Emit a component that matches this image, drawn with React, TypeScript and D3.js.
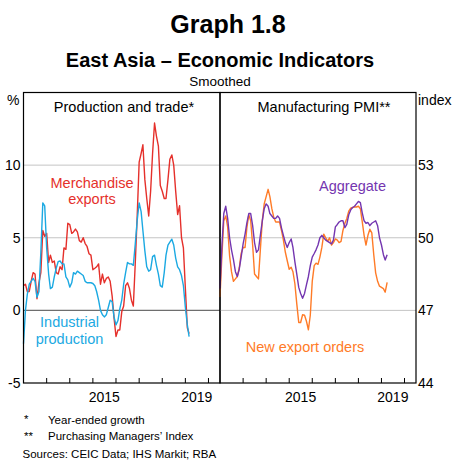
import React from "react";
import * as d3 from "d3";

// monthly, starting January 2012
const startMonth = new Date(2012, 0, 1);
const endDomain = new Date(2020, 6, 1);

// Production and trade, year-ended growth, %
const merchandiseExports = [
  1.7, 1.8, 1.3, 1.3, 2.0, 2.6, 2.5, 0.8, 1.9, 2.6,
  5.5, 5.1, 5.3, 3.3, 3.8, 3.3, 3.4, 2.6, 2.5, 3.0,
  2.8, 4.3, 4.2, 6.0, 5.9, 5.3, 5.4, 5.6, 5.4, 4.8,
  4.7, 5.0, 4.6, 4.4, 3.9, 3.8, 2.8, 2.9, 3.0, 3.2,
  1.8, 2.5, 1.9, 2.2, 2.3, 2.0, 1.0, -0.5, -1.8, -1.35,
  -1.35, -0.1, 0.3, 1.7, 1.9, 1.5, 0.7, 0.3, 3.3, 6.5,
  10.2, 10.8, 11.4, 9.0, 7.7, 6.5, 8.2, 10.8, 12.9, 12.0,
  11.3, 8.6, 8.2, 7.7, 7.7, 9.0, 10.4, 10.7, 10.0, 8.2,
  6.6, 7.2, 5.0, 4.3, 1.5, -1.2, -1.6,
];
const industrialProduction = [
  -2.3, 0.0, 1.1, 1.8, 2.0, 2.2, 2.0, 0.9, 1.3, 4.0,
  7.4, 7.2, 4.3, 2.5, 1.5, 1.6, 2.3, 2.9, 3.35, 3.4,
  3.2, 3.2, 2.3, 2.1, 1.6, 1.9, 2.6, 2.5, 2.7, 2.6,
  2.5, 2.4, 2.0, 1.9, 1.9, 1.9, 1.85, 1.7, 1.3, 0.7,
  0.0, -0.3, -0.45, -0.3, 0.2, 0.7, 0.6, -0.45, -1.0, -0.7,
  0.1, 0.7, 1.8, 2.6, 3.3, 3.2, 3.2, 3.1, 4.6, 6.2,
  7.4, 6.8, 5.5, 4.1, 3.0, 2.7, 2.8, 3.7, 3.8, 3.1,
  2.5, 1.7, 1.6, 2.6, 3.8, 4.5, 4.7, 4.9, 4.5, 3.6,
  3.0, 2.8, 2.4, 1.7, 0.2, -1.0, -1.8,
];

// Manufacturing PMI, index
const pmiAggregate = [
  47.9, 49.7, 51.0, 51.3, 50.8, 50.0, 49.5, 49.1, 48.6, 48.4,
  48.7, 49.2, 49.75, 50.15, 50.6, 51.0, 51.0, 50.5, 49.8, 49.4,
  49.5, 50.1, 50.7, 51.2, 51.4, 51.3, 51.0, 50.9, 50.8, 50.8,
  50.9, 50.8, 50.4, 50.1, 49.8, 49.6, 49.8, 49.95, 49.6, 49.0,
  48.5, 47.95, 47.7, 47.5, 47.7, 48.05, 48.4, 48.85, 49.2, 49.35,
  49.5, 49.7, 50.0, 50.1, 50.0, 49.9, 49.85, 49.8, 49.75, 49.9,
  50.45, 50.55, 50.65, 50.7, 50.7, 50.42, 50.55, 50.95, 51.15, 51.25,
  51.3, 51.4, 51.5, 51.45, 51.05, 50.7, 50.6, 50.63, 50.5, 50.6,
  50.65, 50.7, 50.5, 50.0, 49.7, 49.3, 49.08, 49.3,
];
const pmiNewExportOrders = [
  47.55, 49.3, 50.7, 50.9, 50.45, 49.25, 48.6, 48.2, 48.3, 48.4,
  48.75, 49.35, 49.6, 49.6, 50.4, 50.95, 50.7, 49.7, 48.5, 48.4,
  48.3, 49.5, 50.7, 51.4, 51.7, 52.0, 51.7, 51.2, 50.85, 50.65,
  50.65, 50.65, 50.3, 49.9, 49.4, 49.05, 48.7, 48.78, 48.6, 48.1,
  47.27, 46.5, 46.5, 46.82, 46.8, 46.55, 46.2, 46.8, 48.2, 48.85,
  48.95, 48.9, 49.2, 49.6, 50.15, 50.0, 49.85, 50.0, 49.7, 49.8,
  49.95, 49.9, 49.8, 49.85, 50.3, 50.6, 50.8, 51.1, 51.22, 51.25,
  51.27, 51.27, 51.3, 51.2, 50.7, 50.1, 49.7, 50.1, 50.35, 50.2,
  49.3, 48.55, 48.2, 48.0, 47.95, 47.9, 47.75, 48.16,
];

const yearLabels = [2015, 2019];
const leftTicks = [10, 5, 0, -5];
const rightTicks = [53, 50, 47, 44];

const FONT = "Arial, 'Liberation Sans', Helvetica, sans-serif";
const RED = "#e5302b";
const BLUE = "#1ba9e2";
const PURPLE = "#7436b0";
const ORANGE = "#ff7b27";

const TOP = 92.5;
const BOTTOM = 383;

const monthDate = (i: number) => d3.timeMonth.offset(startMonth, i);

const Panel = ({ x, y, grid, zero, series }) => {
  const [x0, x1] = x.range();
  const years = d3.timeYear.range(new Date(2013, 0, 1), endDomain);
  return (
    <g>
      {grid.map(v => (
        <line key={v} x1={x0} x2={x1} y1={y(v)} y2={y(v)}
          stroke={v === zero ? "#6e6e6e" : "#c4c4c4"}
          strokeWidth={v === zero ? 1.4 : 1} />
      ))}
      {series.map(s => {
        const line = d3.line<number>()
          .x((d, i) => x(monthDate(i)))
          .y(d => y(d));
        return (
          <path key={s.name} d={line(s.values) || ""} fill="none"
            stroke={s.color} strokeWidth={1.4} strokeLinejoin="round" />
        );
      })}
      {years.map(d => (
        <line key={+d} x1={x(d)} x2={x(d)} y1={BOTTOM} y2={BOTTOM - 5}
          stroke="#000" strokeWidth={1} />
      ))}
      {yearLabels.map(yr => (
        <text key={yr} x={x(new Date(yr, 6, 1))} y={401.5} textAnchor="middle"
          fontSize={14}>{yr}</text>
      ))}
      <rect x={x0} y={TOP} width={x1 - x0} height={BOTTOM - TOP}
        fill="none" stroke="#000" strokeWidth={1.2} />
    </g>
  );
};

export default function App() {
  const xL = d3.scaleTime().domain([startMonth, endDomain]).range([23.5, 220]);
  const xR = d3.scaleTime().domain([startMonth, endDomain]).range([220, 416]);
  const yL = d3.scaleLinear().domain([-5, 15]).range([BOTTOM, TOP]);
  const yR = d3.scaleLinear().domain([44, 56]).range([BOTTOM, TOP]);

  return (
    <svg width={455} height={461} fontFamily={FONT}
      style={{ position: "absolute", left: 0, top: 0, background: "#fff" }}>
      <text x={228} y={33} textAnchor="middle" fontSize={25} fontWeight="bold">Graph 1.8</text>
      <text x={220} y={67} textAnchor="middle" fontSize={20} fontWeight="bold">East Asia – Economic Indicators</text>
      <text x={220} y={86} textAnchor="middle" fontSize={13.5}>Smoothed</text>

      <Panel x={xL} y={yL} grid={[10, 5, 0]} zero={0}
        series={[
          { name: "exports", values: merchandiseExports, color: RED },
          { name: "production", values: industrialProduction, color: BLUE },
        ]} />
      <Panel x={xR} y={yR} grid={[53, 50, 47]} zero={null}
        series={[
          { name: "export orders", values: pmiNewExportOrders, color: ORANGE },
          { name: "aggregate", values: pmiAggregate, color: PURPLE },
        ]} />

      <text x={7} y={105} fontSize={14}>%</text>
      <text x={418} y={105} fontSize={14}>index</text>
      {leftTicks.map(v => (
        <text key={v} x={20.5} y={yL(v)} dy="0.36em" textAnchor="end" fontSize={14}>{v}</text>
      ))}
      {rightTicks.map(v => (
        <text key={v} x={418} y={yR(v)} dy="0.36em" fontSize={14}>{v}</text>
      ))}

      <text x={124} y={112} textAnchor="middle" fontSize={14.5}>Production and trade*</text>
      <text x={324} y={112} textAnchor="middle" fontSize={14.5}>Manufacturing PMI**</text>

      <text textAnchor="middle" fontSize={14.5} fill={RED}>
        <tspan x={92} y={188}>Merchandise</tspan>
        <tspan x={92} y={203.5}>exports</tspan>
      </text>
      <text textAnchor="middle" fontSize={14.5} fill={BLUE}>
        <tspan x={69.5} y={327}>Industrial</tspan>
        <tspan x={69.5} y={343.5}>production</tspan>
      </text>
      <text x={352.5} y={191} textAnchor="middle" fontSize={14.5} fill={PURPLE}>Aggregate</text>
      <text x={305} y={351.5} textAnchor="middle" fontSize={14.5} fill={ORANGE}>New export orders</text>

      <text x={24} y={423} fontSize={11.5}>*</text>
      <text x={48} y={423.5} fontSize={11.5}>Year-ended growth</text>
      <text x={24} y={440} fontSize={11.5}>**</text>
      <text x={48} y={440} fontSize={11.5}>Purchasing Managers’ Index</text>
      <text x={22.5} y={457.5} fontSize={11.5}>Sources: CEIC Data; IHS Markit; RBA</text>
    </svg>
  );
}
